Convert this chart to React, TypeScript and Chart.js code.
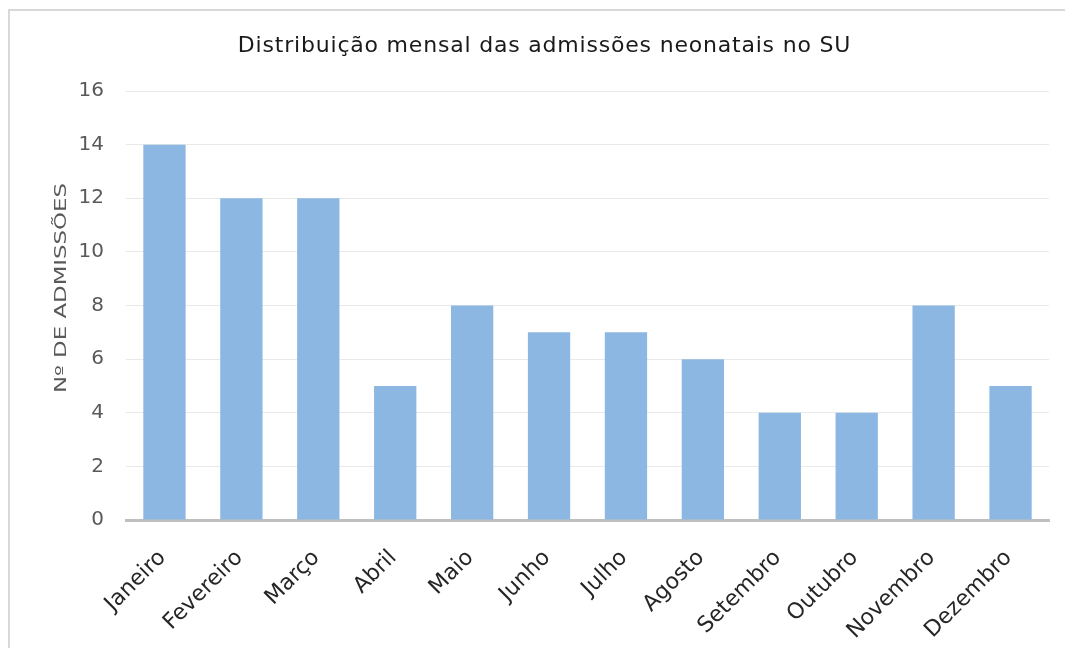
import React, { useEffect, useRef } from "react";
import { Chart, registerables } from "chart.js";

Chart.register(...registerables);

const chartTitle = "Distribuição mensal das admissões neonatais no SU";
const yAxisTitle = "Nº DE ADMISSÕES";
const months = [
  "Janeiro",
  "Fevereiro",
  "Março",
  "Abril",
  "Maio",
  "Junho",
  "Julho",
  "Agosto",
  "Setembro",
  "Outubro",
  "Novembro",
  "Dezembro",
];
const admissions = [14, 12, 12, 5, 8, 7, 7, 6, 4, 4, 8, 5];
const yTicks = [0, 2, 4, 6, 8, 10, 12, 14, 16];

const W = 1065;
const H = 648;

const framePlugin = {
  id: "frame",
  beforeDraw(chart: any) {
    const ctx = chart.ctx as CanvasRenderingContext2D;
    ctx.save();
    ctx.fillStyle = "#ffffff";
    ctx.fillRect(0, 0, chart.width, chart.height);
    ctx.strokeStyle = "#d9d9d9";
    ctx.lineWidth = 2;
    ctx.beginPath();
    ctx.moveTo(9, chart.height + 5);
    ctx.lineTo(9, 10);
    ctx.lineTo(chart.width + 5, 10);
    ctx.stroke();
    ctx.restore();
  },
};

const textPlugin = {
  id: "customTexts",
  afterDraw(chart: any) {
    const ctx = chart.ctx as CanvasRenderingContext2D;
    ctx.save();
    ctx.font = '22px "DejaVu Sans"';
    (ctx as any).letterSpacing = "0.8px";
    ctx.fillStyle = "#1a1a1a";
    ctx.textAlign = "center";
    ctx.textBaseline = "middle";
    const cx = (chart.chartArea.left + chart.chartArea.right) / 2;
    ctx.fillText(chartTitle, cx - 43, 46);
    ctx.restore();

    ctx.save();
    ctx.font = '15px "DejaVu Sans"';
    ctx.fillStyle = "#595959";
    ctx.textAlign = "center";
    ctx.textBaseline = "middle";
    const tw = ctx.measureText(yAxisTitle).width;
    const targetLen = 210;
    ctx.translate(62, 288);
    ctx.rotate(-Math.PI / 2);
    ctx.scale(targetLen / tw, 1);
    ctx.fillText(yAxisTitle, 0, 0);
    ctx.restore();
  },
};

export default function App() {
  const ref = useRef<HTMLCanvasElement | null>(null);

  useEffect(() => {
    document.documentElement.style.overflow = "hidden";
    document.body.style.margin = "0";
    document.body.style.overflow = "hidden";
    if (!ref.current) return;
    const chart = new Chart(ref.current, {
      type: "bar",
      data: {
        labels: months,
        datasets: [
          {
            label: yAxisTitle,
            data: admissions,
            backgroundColor: "#8cb7e2",
            borderWidth: 0,
            barPercentage: 0.55,
            categoryPercentage: 1,
          },
        ],
      },
      options: {
        responsive: false,
        animation: false,
        layout: { padding: { top: 91, right: 16, left: 0, bottom: 0 } },
        plugins: {
          legend: { display: false },
          title: { display: false },
          tooltip: { enabled: false },
        },
        scales: {
          x: {
            grid: { display: false, drawTicks: false },
            border: { display: true, color: "#bfbfbf", width: 3 },
            ticks: {
              color: "#262626",
              font: { family: "DejaVu Sans", size: 22 },
              maxRotation: 45,
              minRotation: 45,
              padding: 25,
              labelOffset: -2,
              autoSkip: false,
            },
            afterFit: (s: any) => {
              s.height = 128;
            },
          },
          y: {
            min: 0,
            max: 16,
            afterBuildTicks: (s: any) => {
              s.ticks = yTicks.map((v) => ({ value: v }));
            },
            grid: { color: "#e9e9e9", lineWidth: 1, drawTicks: false },
            border: { display: false },
            ticks: {
              color: "#595959",
              font: { family: "DejaVu Sans", size: 20 },
              padding: 22,
            },
            title: { display: false },
            afterFit: (s: any) => {
              s.width = 126;
            },
          },
        },
      },
      plugins: [framePlugin, textPlugin],
    });
    return () => chart.destroy();
  }, []);

  return (
    <div
      style={{
        position: "fixed",
        left: 0,
        top: 0,
        width: W,
        height: H,
        overflow: "hidden",
        background: "#fff",
      }}
    >
      <canvas
        ref={ref}
        width={W}
        height={H}
        style={{ display: "block", position: "absolute", left: 0, top: 0, width: W, height: H }}
      />
    </div>
  );
}
